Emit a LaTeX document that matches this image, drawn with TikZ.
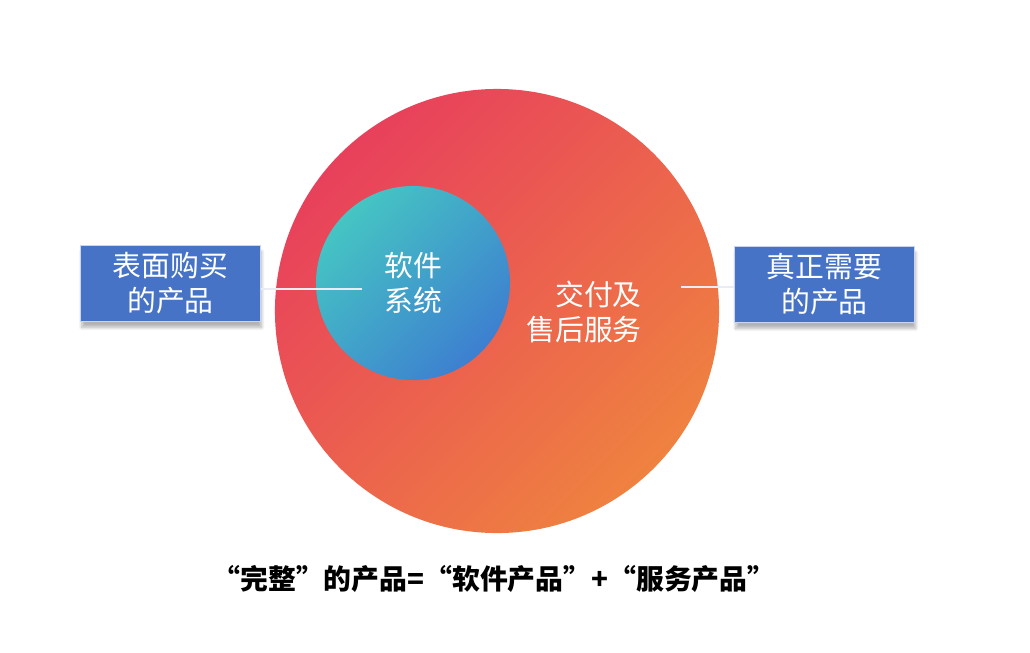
\documentclass[tikz,border=0pt]{standalone}
\usepackage{fontspec}
\setmainfont{Noto Sans CJK SC}
\usetikzlibrary{positioning, shadows.blur}
\definecolor{boxblue}{HTML}{4673C6}
\definecolor{boxedge}{HTML}{C9D5EE}
\definecolor{ringred}{HTML}{E8405C}
\definecolor{ringmid}{HTML}{ED6A50}
\definecolor{ringorange}{HTML}{EF8240}
\definecolor{coreteal}{HTML}{45C5C3}
\definecolor{coremid}{HTML}{43B6C5}
\definecolor{coreblue}{HTML}{3D7FD0}
\definecolor{linkgray}{HTML}{E9ECF2}

\begin{document}
\begin{tikzpicture}[x=0.025cm, y=-0.025cm,
  every node/.style={font=\fontsize{20.5}{25}\selectfont, text=white, align=center, inner sep=0pt},
  ring/.style={circle, minimum size=11.1cm},
  core/.style={circle, minimum size=4.85cm},
  boxnode/.style={fill=boxblue, draw=boxedge, line width=1.2pt,
    minimum width=4.5cm, minimum height=1.9cm,
    blur shadow={shadow xshift=0.3mm, shadow yshift=-1.5mm, shadow blur steps=8, shadow opacity=30}},
  lnk/.style={draw=linkgray, line width=1.2pt}
]
\useasboundingbox (0,0) rectangle (1030,652);

% circles
\node[ring, left color=ringred, middle color=ringmid, right color=ringorange, shading angle=45] (svc) at (497,311) {};
\node[core, left color=coreteal, middle color=coremid, right color=coreblue, shading angle=45] (sw) at (413,283) {软件\\系统};
\node[align=right] (svctxt) at (584,312) {交付及\\售后服务};

% connectors
\coordinate (lend) at (362,289);
\coordinate (rstart) at (681,287);
\node[boxnode] (lbox) at (170.5,283.5) {表面购买\\的产品};
\node[boxnode] (rbox) at (824.5,284.5) {真正需要\\的产品};
\draw[lnk] (lbox.east |- lend) -- (lend);
\draw[lnk] (rstart) -- (rstart -| rbox.west);

\node[text=black, font=\fontsize{19.8}{24}\selectfont\bfseries] (formula) at (494,579) {“完整”的产品=“软件产品”+“服务产品”};
\end{tikzpicture}
\end{document}
